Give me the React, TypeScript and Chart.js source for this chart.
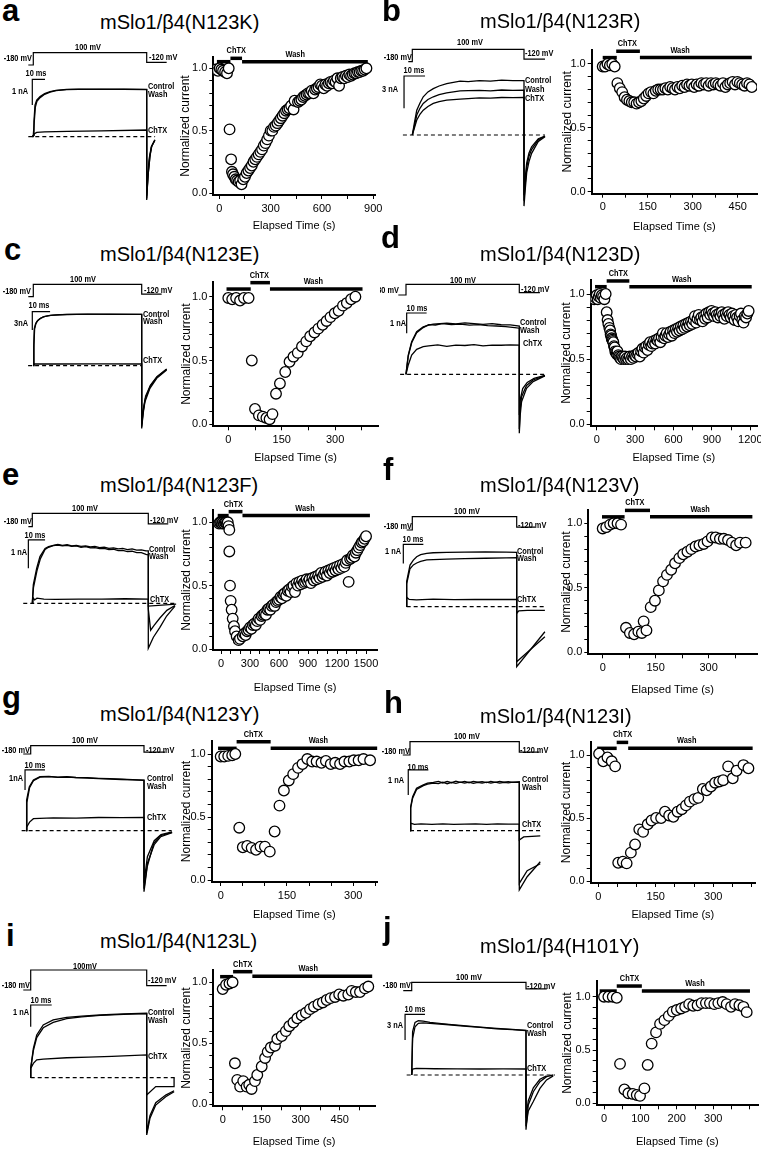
import React, { useEffect, useRef } from "react";
import { Chart, registerables } from "chart.js";
Chart.register(...registerables);

type Pair = [number, number];
type Bar = [number, number, number, number, string];

const FONT = '"Liberation Sans", Arial, Helvetica, sans-serif';
const NARROW_SCALE = 0.82;

// ---------- shared values ----------
const PROTOCOL_MV = [-180, 100, -120];
const PULSE_MS = [0, 50];
const Y_TICKS = [0, 0.1, 0.2, 0.3, 0.4, 0.5, 0.6, 0.7, 0.8, 0.9, 1.0];
const Y_LABELS = [0, 0.5, 1.0];
const TRACE_NAMES = ["Control", "Wash", "ChTX"];

// ---------- a: mSlo1/β4(N123K) ----------
const A_POINTS: Pair[] = [
  [-20, 0.99], [-8, 0.98], [2, 1.0], [12, 0.99], [22, 0.98], [34, 0.97], [45, 0.96], [55, 1.0],
  [60, 0.51], [69, 0.27], [74, 0.17], [80, 0.15], [88, 0.13], [96, 0.11], [104, 0.1], [113, 0.09], [122, 0.1], [130, 0.07],
  [140, 0.11], [150, 0.13], [160, 0.16], [170, 0.18], [180, 0.2], [190, 0.22], [200, 0.25], [210, 0.27], [220, 0.29],
  [230, 0.31], [240, 0.33], [250, 0.35], [260, 0.38], [270, 0.4], [280, 0.43], [290, 0.46], [300, 0.5], [310, 0.5],
  [320, 0.53], [330, 0.54], [340, 0.56], [350, 0.58], [360, 0.6], [370, 0.62], [380, 0.64], [390, 0.66], [400, 0.67],
  [410, 0.68], [420, 0.7], [434, 0.67], [440, 0.74], [460, 0.73], [470, 0.74], [480, 0.75], [490, 0.77], [500, 0.78],
  [510, 0.79], [520, 0.8], [530, 0.8], [540, 0.82], [550, 0.8], [560, 0.83], [570, 0.84], [580, 0.85], [590, 0.87],
  [600, 0.86], [610, 0.84], [620, 0.87], [630, 0.86], [640, 0.88], [650, 0.89], [660, 0.88], [670, 0.9], [680, 0.89],
  [690, 0.92], [700, 0.86], [710, 0.92], [720, 0.93], [730, 0.92], [740, 0.94], [750, 0.93], [760, 0.95], [770, 0.94],
  [780, 0.95], [790, 0.96], [800, 0.96], [810, 0.97], [820, 0.97], [830, 0.98], [840, 0.98], [850, 0.99], [860, 1.0],
];
const A_BARS: Bar[] = [[-14, 65, 1.053, 0, ""], [65, 133, 1.08, 99, "ChTX"], [133, 868, 1.053, 444, "Wash"]];
const A_XTICKS = [0, 150, 300, 450, 600, 750, 900];
const A_XLABELS = [0, 300, 600, 900];
const A_CONTROL: Pair[] = [[-0.5, 0], [0, 0.05], [0.3, 0.6], [0.75, 1.23], [1.5, 1.42], [3, 1.56], [5, 1.68], [7.4, 1.75], [10, 1.8], [14.7, 1.84], [20, 1.85], [30, 1.84], [40, 1.85], [50, 1.84], [50, -2.46], [50.5, -1.6], [51.4, -0.78], [52.1, -0.39], [53.6, -0.13]];
const A_WASH: Pair[] = [[-0.5, 0], [0, 0.05], [0.4, 0.55], [0.9, 1.15], [1.6, 1.38], [3, 1.52], [5, 1.65], [7.4, 1.73], [10, 1.79], [14.7, 1.83], [20, 1.84], [30, 1.85], [40, 1.84], [50, 1.83], [50, -2.4], [50.6, -1.5], [51.5, -0.72], [52.3, -0.35], [53.6, -0.12]];
const A_CHTX: Pair[] = [[-0.5, 0], [0, 0], [0.5, 0.12], [1.5, 0.17], [5, 0.19], [15, 0.21], [30, 0.23], [50, 0.26], [50, -2.3], [51, -0.9], [52, -0.4], [53.6, -0.15]];
const A_PROTO_T = [-2.2, 58.8];
const A_SCALEBAR = [-0.44, 5.6, 2.23, 1];
const A_BASE_T = [-2.2, 53.7];

// ---------- b: mSlo1/β4(N123R) ----------
const B_POINTS: Pair[] = [
  [0, 0.98], [8, 0.98], [16, 1.0], [24, 0.99], [32, 1.0], [40, 0.98],
  [49, 0.85], [57, 0.81], [65, 0.78], [73, 0.74], [81, 0.72], [89, 0.71], [97, 0.7], [105, 0.7], [113, 0.69], [121, 0.7],
  [129, 0.71], [137, 0.73], [145, 0.75], [153, 0.77], [161, 0.78], [169, 0.77], [177, 0.79], [185, 0.8], [193, 0.8],
  [201, 0.8], [209, 0.81], [217, 0.8], [225, 0.82], [233, 0.81], [241, 0.8], [249, 0.82], [257, 0.81], [265, 0.83],
  [273, 0.82], [281, 0.84], [289, 0.83], [297, 0.84], [305, 0.82], [313, 0.84], [321, 0.83], [329, 0.85], [337, 0.84],
  [345, 0.85], [353, 0.83], [361, 0.85], [369, 0.84], [377, 0.85], [385, 0.84], [393, 0.83], [401, 0.85], [409, 0.82],
  [417, 0.84], [425, 0.85], [433, 0.86], [441, 0.84], [449, 0.86], [457, 0.85], [465, 0.84], [473, 0.83], [481, 0.85],
  [489, 0.84], [497, 0.82],
];
const B_BARS: Bar[] = [[0, 47, 1.05, 0, ""], [45, 124, 1.1, 82, "ChTX"], [124, 497, 1.05, 258, "Wash"]];
const B_XTICKS = [0, 75, 150, 225, 300, 375, 450];
const B_XLABELS = [0, 150, 300, 450];
const B_CONTROL: Pair[] = [[0, 0], [1, 1.2], [2, 2.3], [3.5, 3.0], [4.9, 3.55], [7, 4.0], [9.4, 4.3], [12, 4.55], [15.4, 4.78], [21.4, 5.0], [25, 4.95], [30, 5.05], [35, 5.0], [40, 5.1], [45, 5.05], [50, 5.05], [50, -6.6], [50.5, -5.2], [51.2, -3.5], [52.2, -2.5], [53.4, -1.7], [56.4, -0.6], [59.4, -0.15]];
const B_WASH: Pair[] = [[0, 0], [1, 0.9], [2, 1.85], [3.5, 2.5], [4.9, 2.93], [7, 3.3], [9.4, 3.55], [12, 3.75], [15.4, 3.92], [21.4, 4.1], [25, 4.12], [30, 4.15], [35, 4.1], [40, 4.18], [45, 4.15], [50, 4.17], [50, -6.1], [50.5, -4.7], [51.2, -3.0], [52.2, -2.0], [53.4, -1.35], [56.4, -0.45], [59.4, -0.12]];
const B_CHTX: Pair[] = [[0, 0], [1, 0.7], [2, 1.39], [3.5, 1.95], [4.9, 2.31], [7, 2.65], [9.4, 2.93], [12, 3.1], [15.4, 3.24], [21.4, 3.33], [25, 3.38], [30, 3.45], [35, 3.42], [40, 3.48], [45, 3.47], [50, 3.49], [50, -5.6], [50.5, -4.1], [51.2, -2.6], [52.2, -1.7], [53.4, -1.1], [56.4, -0.35], [59.4, -0.1]];
const B_PROTO_T = [-1.8, 59.4];
const B_SCALEBAR = [-3.7, 9.4, 5.48, 3];
const B_BASE_T = [-4.2, 59.4];

// ---------- c: mSlo1/β4(N123E) ----------
const C_POINTS: Pair[] = [
  [0, 0.99], [11, 0.98], [22, 0.99], [33, 0.97], [44, 0.99], [57, 0.99],
  [66, 0.5], [75, 0.12], [86, 0.07], [97, 0.06], [107, 0.05], [116, 0.04], [124, 0.08],
  [134, 0.24], [145, 0.32], [160, 0.41], [172, 0.49], [183, 0.53], [195, 0.56], [207, 0.61], [219, 0.65], [230, 0.69],
  [242, 0.72], [253, 0.75], [265, 0.78], [276, 0.81], [287, 0.84], [299, 0.87], [310, 0.89], [322, 0.93], [333, 0.95],
  [345, 0.98], [357, 1.0],
];
const C_BARS: Bar[] = [[-5, 63, 1.06, 0, ""], [62, 117, 1.11, 87, "ChTX"], [117, 377, 1.06, 239, "Wash"]];
const C_XTICKS = [0, 75, 150, 225, 300, 375];
const C_XLABELS = [0, 150, 300];
const C_CONTROL: Pair[] = [[0, 0], [0.2, 3.0], [0.46, 6.1], [1, 6.8], [1.54, 7.2], [3, 7.7], [4.6, 8.0], [7, 8.2], [9.2, 8.3], [15.4, 8.4], [25, 8.45], [35, 8.43], [50, 8.43], [50, -10.3], [50.6, -8.0], [51.5, -5.9], [53.8, -3.7], [56.9, -2.07], [61.5, -0.7]];
const C_WASH: Pair[] = [[0, 0], [0.3, 3.5], [0.6, 6.0], [1.2, 6.9], [2, 7.4], [3.5, 7.8], [5, 8.05], [8, 8.25], [12, 8.35], [20, 8.42], [35, 8.45], [50, 8.4], [50, -10.0], [50.7, -7.5], [51.6, -5.5], [53.9, -3.4], [57, -1.9], [61.5, -0.6]];
const C_CHTX: Pair[] = [[0, 0], [0.5, 0.3], [10, 0.28], [30, 0.3], [50, 0.28], [50, -9.6], [50.8, -7.0], [51.8, -5.0], [54, -3.2], [57, -1.8], [61.5, -0.55]];
const C_PROTO_T = [-2.3, 59.2];
const C_SCALEBAR = [-0.46, 8.2, 8.85, 3];
const C_BASE_T = [-2.4, 50.1];

// ---------- d: mSlo1/β4(N123D) ----------
const D_POINTS: Pair[] = [
  [-20, 0.96], [-8, 0.97], [0, 0.99], [8, 0.96], [16, 0.98], [24, 1.0], [32, 0.97], [40, 0.99], [50, 0.98], [60, 0.96], [70, 1.0],
  [78, 0.86], [85, 0.8], [91, 0.77], [99, 0.74], [105, 0.72], [109, 0.69], [113, 0.68], [117, 0.66], [121, 0.65], [125, 0.64],
  [130, 0.63], [135, 0.6], [140, 0.59], [145, 0.56], [150, 0.55], [156, 0.54], [162, 0.56], [169, 0.53], [176, 0.52],
  [183, 0.51], [190, 0.5], [197, 0.52], [205, 0.51], [213, 0.5], [221, 0.52], [229, 0.5], [237, 0.51], [247, 0.5],
  [257, 0.52], [267, 0.5], [277, 0.52], [287, 0.51], [297, 0.53], [307, 0.52], [317, 0.54], [327, 0.55], [337, 0.52],
  [347, 0.56], [357, 0.58], [367, 0.55], [377, 0.59], [387, 0.6], [397, 0.57], [407, 0.61], [417, 0.63], [427, 0.6],
  [437, 0.62], [447, 0.64], [457, 0.62], [467, 0.65], [477, 0.64], [487, 0.66], [497, 0.63], [507, 0.67], [517, 0.7],
  [527, 0.66], [537, 0.68], [547, 0.7], [557, 0.67], [567, 0.69], [577, 0.71], [587, 0.68], [597, 0.72], [607, 0.7],
  [617, 0.73], [627, 0.71], [637, 0.74], [647, 0.72], [657, 0.75], [667, 0.73], [677, 0.76], [687, 0.74], [697, 0.77],
  [707, 0.75], [717, 0.78], [727, 0.76], [737, 0.79], [747, 0.77], [757, 0.8], [767, 0.83], [777, 0.78], [787, 0.81],
  [797, 0.84], [807, 0.8], [817, 0.82], [827, 0.79], [837, 0.83], [847, 0.81], [857, 0.85], [867, 0.82], [877, 0.86],
  [887, 0.84], [897, 0.87], [907, 0.85], [917, 0.83], [927, 0.86], [937, 0.84], [947, 0.82], [957, 0.85], [967, 0.83],
  [977, 0.86], [987, 0.84], [997, 0.81], [1007, 0.85], [1017, 0.83], [1027, 0.86], [1037, 0.84], [1047, 0.82],
  [1057, 0.85], [1067, 0.83], [1077, 0.8], [1087, 0.84], [1097, 0.82], [1107, 0.79], [1117, 0.83], [1127, 0.85],
  [1137, 0.8], [1147, 0.78], [1157, 0.83], [1167, 0.82], [1177, 0.85], [1187, 0.87],
];
const D_BARS: Bar[] = [[-13, 78, 1.056, 0, ""], [78, 255, 1.1, 169, "ChTX"], [255, 1211, 1.056, 664, "Wash"]];
const D_XTICKS = [0, 150, 300, 450, 600, 750, 900, 1050, 1200];
const D_XLABELS = [0, 300, 600, 900, 1200];
const D_CONTROL: Pair[] = [[0, 0], [0.5, 0.5], [1, 0.95], [2.5, 1.6], [4.7, 2.1], [7.6, 2.34], [10, 2.42], [12, 2.47], [15, 2.5], [18, 2.52], [22, 2.48], [26, 2.53], [30, 2.5], [34, 2.46], [38, 2.5], [42, 2.44], [46, 2.43], [50, 2.38], [50, -2.9], [50.4, -2.0], [51, -1.35], [53.2, -0.69], [56.1, -0.36], [61.3, -0.08]];
const D_WASH: Pair[] = [[0, 0], [0.5, 0.45], [1, 0.9], [2.5, 1.55], [4.7, 2.05], [7.6, 2.3], [10, 2.45], [13, 2.43], [16, 2.5], [20, 2.45], [24, 2.47], [28, 2.42], [32, 2.45], [36, 2.4], [40, 2.38], [44, 2.35], [48, 2.3], [50, 2.27], [50, -2.7], [50.4, -1.7], [51, -1.1], [53.2, -0.55], [56.1, -0.28], [61.3, -0.06]];
const D_CHTX: Pair[] = [[0, 0], [1, 0.46], [2.5, 0.95], [4.7, 1.23], [7.6, 1.36], [10, 1.4], [14, 1.45], [18, 1.38], [22, 1.44], [26, 1.42], [30, 1.46], [34, 1.4], [38, 1.44], [42, 1.43], [46, 1.45], [50, 1.44], [50, -2.0], [50.5, -1.2], [51.5, -0.7], [53.5, -0.4], [56.5, -0.2], [61.3, -0.05]];
const D_PROTO_T = [-3.4, 59.1];
const D_SCALEBAR = [0.3, 8.8, 3.02, 1];
const D_BASE_T = [-2.6, 61.3];

// ---------- e: mSlo1/β4(N123F) ----------
const E_POINTS: Pair[] = [
  [-20, 0.99], [-10, 1.0], [0, 1.0], [10, 0.99], [20, 1.0], [30, 0.99], [40, 1.0], [50, 1.0], [60, 0.99], [70, 1.0], [78, 0.97],
  [86, 0.94], [86, 0.77], [93, 0.5], [100, 0.38], [110, 0.31], [121, 0.24], [134, 0.18], [145, 0.14], [162, 0.1], [183, 0.07], [196, 0.08],
  [225, 0.1], [240, 0.12], [255, 0.11], [270, 0.14], [285, 0.15], [300, 0.17], [315, 0.16], [330, 0.19], [345, 0.2],
  [360, 0.19], [375, 0.22], [390, 0.24], [405, 0.23], [420, 0.26], [435, 0.27], [450, 0.28], [465, 0.27], [480, 0.31],
  [495, 0.32], [510, 0.31], [525, 0.34], [540, 0.35], [555, 0.34], [570, 0.37], [585, 0.38], [600, 0.39], [615, 0.41],
  [630, 0.4], [645, 0.43], [660, 0.44], [675, 0.42], [690, 0.46], [705, 0.47], [720, 0.45], [735, 0.49], [750, 0.5],
  [765, 0.45], [780, 0.52], [795, 0.5], [810, 0.53], [825, 0.51], [840, 0.54], [855, 0.52], [870, 0.53], [885, 0.55],
  [900, 0.53], [915, 0.55], [930, 0.52], [945, 0.56], [960, 0.54], [975, 0.57], [990, 0.55], [1005, 0.58], [1020, 0.56],
  [1035, 0.6], [1050, 0.57], [1065, 0.59], [1080, 0.61], [1095, 0.58], [1110, 0.62], [1125, 0.6], [1140, 0.63],
  [1155, 0.61], [1170, 0.64], [1185, 0.62], [1200, 0.65], [1215, 0.63], [1230, 0.66], [1245, 0.64], [1260, 0.67],
  [1275, 0.65], [1290, 0.68], [1305, 0.7], [1320, 0.53], [1335, 0.71], [1350, 0.72], [1365, 0.74], [1380, 0.73],
  [1395, 0.76], [1410, 0.78], [1425, 0.8], [1440, 0.82], [1455, 0.84], [1470, 0.85], [1485, 0.87], [1500, 0.89],
];
const E_BARS: Bar[] = [[-34, 79, 1.053, 0, ""], [79, 222, 1.084, 127, "ChTX"], [222, 1540, 1.053, 869, "Wash"]];
const E_XTICKS = [0, 100, 200, 300, 400, 500, 600, 700, 800, 900, 1000, 1100, 1200, 1300, 1400, 1500];
const E_XLABELS = [0, 300, 600, 900, 1200, 1500];
const E_CONTROL: Pair[] = [[0, 0], [0.43, 0.65], [1.9, 1.24], [3.3, 1.65], [5.5, 1.94], [7, 2.0], [9.1, 2.05], [11, 2.08], [13, 2.05], [15, 2.07], [17, 2.03], [19, 2.05], [21, 2.01], [23, 2.03], [25, 1.99], [27, 2.01], [29, 1.97], [31, 1.98], [33, 1.94], [35, 1.96], [37, 1.92], [39, 1.94], [41, 1.9], [43, 1.92], [45, 1.88], [47, 1.89], [49, 1.85], [50, 1.85], [50, -1.59], [52.2, -1.2], [55, -0.85], [57.9, -0.45], [61.5, -0.1]];
const E_WASH: Pair[] = [[0, 0], [0.5, 0.55], [2, 1.15], [3.5, 1.58], [5.5, 1.9], [7, 1.98], [9, 2.04], [11, 2.06], [13, 2.03], [15, 2.05], [17, 2.01], [19, 2.03], [21, 1.98], [23, 2.0], [25, 1.96], [27, 1.97], [29, 1.93], [31, 1.94], [33, 1.9], [35, 1.91], [37, 1.86], [39, 1.87], [41, 1.83], [43, 1.84], [45, 1.79], [47, 1.79], [49, 1.73], [50, 1.71], [50, -0.2], [51, -0.95], [52.5, -0.78], [55, -0.52], [58, -0.25], [61.5, -0.08]];
const E_CHTX: Pair[] = [[0, 0], [0.3, 0.2], [1, 0.12], [2, 0.18], [5, 0.15], [10, 0.14], [20, 0.15], [30, 0.15], [40, 0.16], [50, 0.15], [50, -0.1], [62, -0.03]];
const E_PROTO_T = [-1.7, 58.6];
const E_SCALEBAR = [-1.7, 7.2, 2.24, 1];
const E_BASE_T = [-3.9, 62.2];

// ---------- f: mSlo1/β4(N123V) ----------
const F_POINTS: Pair[] = [
  [0, 0.96], [10, 0.97], [21, 0.99], [31, 1.0], [42, 1.0], [52, 0.99],
  [66, 0.19], [77, 0.15], [89, 0.14], [101, 0.16], [111, 0.15], [116, 0.24], [124, 0.17],
  [136, 0.35], [148, 0.4], [159, 0.48], [171, 0.55], [182, 0.6], [194, 0.64], [205, 0.69], [217, 0.73], [228, 0.76],
  [240, 0.78], [251, 0.8], [263, 0.82], [274, 0.83], [286, 0.84], [297, 0.86], [309, 0.89], [320, 0.89], [332, 0.88],
  [343, 0.88], [355, 0.87], [366, 0.85], [378, 0.83], [389, 0.85], [405, 0.85],
];
const F_BARS: Bar[] = [[-2, 62, 1.05, 0, ""], [63, 134, 1.1, 91, "ChTX"], [134, 424, 1.05, 276, "Wash"]];
const F_XTICKS = [0, 75, 150, 225, 300, 375];
const F_XLABELS = [0, 150, 300];
const F_CONTROL: Pair[] = [[-2.7, 0], [-2.7, 1.32], [-1.1, 2.19], [0.5, 2.45], [2.1, 2.63], [4, 2.74], [6.9, 2.81], [10, 2.84], [16.5, 2.86], [25, 2.87], [35, 2.88], [45, 2.87], [50, 2.86], [50, -3.16], [63.5, -1.32]];
const F_WASH: Pair[] = [[-2.7, 0], [-2.7, 1.2], [-1.1, 2.0], [0.5, 2.2], [2.1, 2.3], [4, 2.38], [6.9, 2.46], [10, 2.48], [16.5, 2.5], [25, 2.53], [35, 2.55], [45, 2.57], [50, 2.58], [50, -2.9], [63.5, -1.58]];
const F_CHTX: Pair[] = [[-2.7, 0], [-2.7, 0.5], [-1.5, 0.38], [2, 0.36], [10, 0.4], [20, 0.37], [30, 0.39], [40, 0.38], [50, 0.39], [50, -0.35], [51, -0.22], [55, -0.19], [63.5, -0.19]];
const F_PROTO_T = [-2.7, 58.8];
const F_SCALEBAR = [-4.3, 9.6, 3.28, 1];
const F_BASE_T = [-2.7, 63.6];

// ---------- g: mSlo1/β4(N123Y) ----------
const G_POINTS: Pair[] = [
  [0, 0.98], [8, 0.98], [17, 0.985], [26, 0.99], [33, 1.0],
  [42, 0.415], [50, 0.26], [60, 0.27], [70, 0.255], [80, 0.24], [90, 0.265], [100, 0.265], [111, 0.225],
  [122, 0.385], [133, 0.59], [143, 0.71], [154, 0.79], [164, 0.84], [175, 0.89], [185, 0.92], [196, 0.96], [207, 0.94],
  [217, 0.94], [228, 0.93], [238, 0.945], [249, 0.92], [259, 0.93], [270, 0.92], [280, 0.94], [291, 0.94], [301, 0.95],
  [312, 0.95], [323, 0.96], [338, 0.95],
];
const G_BARS: Bar[] = [[-6, 36, 1.045, 0, ""], [36, 113, 1.098, 74, "ChTX"], [113, 354, 1.045, 221, "Wash"]];
const G_XTICKS = [0, 50, 100, 150, 200, 250, 300, 350];
const G_XLABELS = [0, 150, 300];
const G_CONTROL: Pair[] = [[-2.06, 0], [-1.8, 1.53], [-0.6, 2.2], [1.2, 2.53], [4.1, 2.7], [8, 2.72], [12, 2.68], [16, 2.7], [20, 2.66], [25, 2.65], [30, 2.62], [35, 2.6], [40, 2.58], [45, 2.55], [50, 2.53], [50, -3.05], [51.4, -1.8], [54.3, -0.63], [57.2, -0.25], [62.4, -0.08]];
const G_WASH: Pair[] = [[-2.06, 0], [-1.7, 1.4], [-0.5, 2.15], [1.2, 2.5], [4.1, 2.68], [8, 2.7], [12, 2.67], [16, 2.68], [20, 2.65], [25, 2.63], [30, 2.6], [35, 2.58], [40, 2.56], [45, 2.54], [50, 2.52], [50, -2.9], [51.6, -1.6], [54.5, -0.7], [57.4, -0.3], [62.4, -0.1]];
const G_CHTX: Pair[] = [[-2.06, 0], [-1.8, 0.18], [-0.5, 0.43], [1.2, 0.6], [4, 0.62], [10, 0.64], [20, 0.63], [30, 0.66], [40, 0.65], [50, 0.67], [50, -2.6], [51.5, -1.3], [54.5, -0.5], [57.5, -0.2], [62.4, -0.06]];
const G_PROTO_T = [-3.3, 59.3];
const G_SCALEBAR = [-2.5, 8.8, 3.04, 1];
const G_BASE_T = [-4.0, 62.2];

// ---------- h: mSlo1/β4(N123I) ----------
const H_POINTS: Pair[] = [
  [2, 1.01], [13, 0.95], [24, 0.98], [35, 0.95], [44, 0.91],
  [52, 0.145], [64, 0.153], [74, 0.14],
  [85, 0.225], [96, 0.29], [107, 0.41], [117, 0.39], [129, 0.45], [139, 0.48], [151, 0.5], [164, 0.5], [174, 0.55],
  [185, 0.52], [196, 0.51], [207, 0.55], [218, 0.57], [229, 0.6], [239, 0.63], [251, 0.65], [261, 0.66], [273, 0.73],
  [283, 0.72], [294, 0.75], [305, 0.78], [316, 0.79], [326, 0.8], [339, 0.91], [351, 0.815], [361, 0.875], [379, 0.92],
  [392, 0.895],
];
const H_BARS: Bar[] = [[-3, 48, 1.053, 0, ""], [48, 78, 1.1, 63.5, "ChTX"], [78, 403, 1.053, 231, "Wash"]];
const H_XTICKS = [0, 50, 100, 150, 200, 250, 300, 350, 400];
const H_XLABELS = [0, 150, 300];
const H_CONTROL: Pair[] = [[0, 0], [0.3, 0.96], [1.2, 1.36], [3, 1.7], [6.1, 1.83], [8, 1.9], [10.7, 1.93], [13, 1.97], [15, 1.91], [17, 1.97], [19, 1.92], [21, 1.98], [23, 1.93], [25, 1.97], [27, 1.92], [29, 1.97], [31, 1.94], [33, 1.96], [35, 1.92], [37, 1.97], [39, 1.93], [41, 1.97], [43, 1.94], [45, 1.96], [47, 1.93], [50, 1.96], [50, -2.37], [53.6, -1.84], [59.6, -1.24]];
const H_WASH: Pair[] = [[0, 0], [0.3, 0.9], [1.2, 1.3], [3, 1.65], [6.1, 1.8], [8, 1.86], [10.7, 1.9], [13, 1.88], [15, 1.94], [17, 1.88], [19, 1.93], [21, 1.89], [23, 1.94], [25, 1.9], [27, 1.94], [29, 1.89], [31, 1.93], [33, 1.9], [35, 1.94], [37, 1.9], [39, 1.94], [41, 1.9], [43, 1.93], [45, 1.91], [47, 1.94], [50, 1.93], [50, -2.11], [53.6, -1.6], [59.6, -1.32]];
const H_CHTX: Pair[] = [[0, 0], [0.3, 0.3], [2, 0.25], [5, 0.27], [10, 0.25], [15, 0.27], [20, 0.25], [25, 0.26], [30, 0.27], [35, 0.25], [40, 0.27], [45, 0.26], [50, 0.26], [50, -0.37], [52, -0.25], [59.6, -0.21]];
const H_PROTO_T = [-3.3, 59.1];
const H_SCALEBAR = [-0.8, 9.2, 2.43, 1];
const H_BASE_T = [0, 59.5];

// ---------- i: mSlo1/β4(N123L) ----------
const I_POINTS: Pair[] = [
  [0, 0.945], [13, 0.98], [26, 0.99], [38, 1.0],
  [47, 0.336], [56, 0.2], [67, 0.145], [79, 0.19], [92, 0.145], [102, 0.16], [111, 0.126],
  [124, 0.19], [133, 0.24], [150, 0.31], [163, 0.38], [173, 0.43], [185, 0.465], [201, 0.48], [210, 0.535], [227, 0.56],
  [243, 0.6], [256, 0.64], [272, 0.67], [287, 0.705], [304, 0.73], [320, 0.75], [336, 0.78], [351, 0.8], [368, 0.82],
  [385, 0.835], [400, 0.855], [415, 0.87], [432, 0.88], [448, 0.9], [464, 0.89], [483, 0.9], [496, 0.93], [512, 0.92],
  [528, 0.92], [547, 0.95], [560, 0.965],
];
const I_BARS: Bar[] = [[-10, 40, 1.046, 0, ""], [40, 114, 1.087, 77, "ChTX"], [114, 575, 1.05, 329, "Wash"]];
const I_XTICKS = [0, 75, 150, 225, 300, 375, 450, 525];
const I_XLABELS = [0, 150, 300, 450];
const I_CONTROL: Pair[] = [[0, 0], [0, 0.43], [1.15, 1.35], [2.6, 1.97], [5.4, 2.43], [9.7, 2.66], [15.5, 2.78], [22, 2.84], [29.9, 2.89], [40, 2.94], [50, 2.97], [50, -2.64], [51.4, -1.87], [53.9, -1.26], [58.2, -0.88], [61.8, -0.65]];
const I_WASH: Pair[] = [[0, 0], [0, 0.43], [1.15, 1.25], [2.6, 1.85], [5.4, 2.3], [9.7, 2.55], [15.5, 2.72], [22, 2.8], [29.9, 2.87], [40, 2.92], [50, 2.95], [50, -2.55], [51.4, -1.75], [53.9, -1.15], [58.2, -0.8], [61.8, -0.6]];
const I_CHTX: Pair[] = [[0, 0], [0, 0.43], [1.15, 0.66], [2.6, 0.82], [5.4, 0.86], [15.5, 0.92], [25, 0.95], [35, 0.98], [50, 1.05], [50, -0.8], [53.9, -0.41], [61.8, -0.41], [61.8, 0]];
const I_PROTO_T = [-3.2, 58.6];
const I_SCALEBAR = [0, 9.05, 3.35, 1];
const I_BASE_T = [0, 62.9];

// ---------- j: mSlo1/β4(H101Y) ----------
const J_POINTS: Pair[] = [
  [0, 1.0], [12, 1.0], [24, 1.0], [35, 0.99],
  [44, 0.37], [56, 0.13], [67, 0.094], [79, 0.088], [90, 0.078], [99, 0.07],
  [111, 0.14], [120, 0.36], [131, 0.56], [143, 0.665], [154, 0.745], [166, 0.78], [178, 0.82], [189, 0.86], [200, 0.875],
  [212, 0.89], [223, 0.905], [234, 0.93], [245, 0.915], [257, 0.92], [268, 0.94], [280, 0.94], [291, 0.94], [303, 0.93],
  [314, 0.94], [326, 0.95], [337, 0.93], [349, 0.905], [360, 0.93], [372, 0.92], [383, 0.905], [392, 0.855],
];
const J_BARS: Bar[] = [[-12, 35, 1.053, 0, ""], [35, 104, 1.1, 70, "ChTX"], [104, 401, 1.053, 250, "Wash"]];
const J_XTICKS = [0, 50, 100, 150, 200, 250, 300, 350, 400];
const J_XLABELS = [0, 100, 200, 300];
const J_CONTROL: Pair[] = [[0, 0], [0.4, 5.06], [1.46, 6.15], [2.9, 6.34], [5, 6.3], [8, 6.15], [15, 5.95], [22.6, 5.76], [30, 5.6], [37.2, 5.45], [44, 5.33], [50, 5.22], [50, -6.4], [51, -3.5], [53.2, -1.95], [56.1, -0.78], [59, -0.2], [61.9, 0]];
const J_WASH: Pair[] = [[0, 0], [0.4, 4.28], [1.46, 5.64], [2.9, 6.03], [5, 6.1], [8, 6.03], [15, 5.9], [22.6, 5.72], [30, 5.57], [37.2, 5.4], [44, 5.3], [50, 5.2], [50, -6.0], [51, -4.2], [53.2, -3.1], [56.1, -1.56], [59, -0.58], [61.9, -0.1]];
const J_CHTX: Pair[] = [[0, 0], [0.4, 0.7], [2, 0.78], [10, 0.73], [20, 0.72], [30, 0.7], [40, 0.71], [50, 0.7], [50, -5.0], [51, -3.0], [53.2, -1.5], [56.1, -0.5], [59, -0.1]];
const J_PROTO_T = [-3.7, 59.1];
const J_SCALEBAR = [-2.9, 8.7, 7.09, 3];
const J_BASE_T = [-2.2, 62.7];

// ---------- layout (positions in page pixels) ----------
type TraceLayout = { tOn: number; tOff: number; base: number; pxNA: number; p100: number; p180: number; top: number; h: number };
type ScatterLayout = { L: number; R: number; T: number; B: number; x0: number; pxX: number; y1: number; y0: number; yTitleX: number; xTitleY: number };

const PANELS = [
  {
    letter: "a", title: "mSlo1/β4(N123K)", points: A_POINTS, bars: A_BARS, xTicks: A_XTICKS, xLabels: A_XLABELS,
    traces: [A_CONTROL, A_WASH, A_CHTX], protoT: A_PROTO_T, scaleBar: A_SCALEBAR, baseT: A_BASE_T, nA: "1 nA", step: "100 mV",
    col: 0, letterPos: [2, 21.7], titlePos: [100, 29],
    trace: { tOn: 33.3, tOff: 146.7, base: 136.7, pxNA: 25.7, p100: 52.7, p180: 65, top: 30, h: 190 },
    scatter: { L: 213.3, R: 375, T: 57, B: 195, x0: 219.3, pxX: 0.1711, y1: 68.3, y0: 193, yTitleX: 185, xTitleY: 226.5 },
    lab: [[148, 86], [148, 94.5], [148, 130], [36, 73], [28, 91], [88, 47], [32, 58], [149, 57]],
  },
  {
    letter: "b", title: "mSlo1/β4(N123R)", points: B_POINTS, bars: B_BARS, xTicks: B_XTICKS, xLabels: B_XLABELS,
    traces: [B_CONTROL, B_WASH, B_CHTX], protoT: B_PROTO_T, scaleBar: B_SCALEBAR, baseT: B_BASE_T, nA: "3 nA", step: "100 mV",
    col: 1, letterPos: [382, 21.7], titlePos: [480, 28],
    trace: { tOn: 412.3, tOff: 524, base: 135, pxNA: 10.77, p100: 49.3, p180: 61.7, top: 30, h: 190 },
    scatter: { L: 591.7, R: 757, T: 50, B: 193.7, x0: 602.7, pxX: 0.3, y1: 64, y0: 191.7, yTitleX: 567.5, xTitleY: 227.5 },
    lab: [[525, 80.7], [525, 89.3], [525, 98.7], [414, 70.7], [398, 89], [470, 42.7], [412, 57.3], [525, 53.3]],
  },
  {
    letter: "c", title: "mSlo1/β4(N123E)", points: C_POINTS, bars: C_BARS, xTicks: C_XTICKS, xLabels: C_XLABELS,
    traces: [C_CONTROL, C_WASH, C_CHTX], protoT: C_PROTO_T, scaleBar: C_SCALEBAR, baseT: C_BASE_T, nA: "3nA", step: "100 mV",
    col: 0, letterPos: [4, 260.7], titlePos: [100, 261],
    trace: { tOn: 33.3, tOff: 141.7, base: 365.7, pxNA: 6.1, p100: 284.3, p180: 296.7, top: 245, h: 200 },
    scatter: { L: 213.3, R: 378, T: 281.7, B: 426.3, x0: 228.3, pxX: 0.356, y1: 296.7, y0: 424.3, yTitleX: 185.8, xTitleY: 458.3 },
    lab: [[143, 314], [143, 321.7], [143, 360.7], [39, 305.7], [28, 323], [83, 279.3], [31, 291], [144, 290.7]],
  },
  {
    letter: "d", title: "mSlo1/β4(N123D)", points: D_POINTS, bars: D_BARS, xTicks: D_XTICKS, xLabels: D_XLABELS,
    traces: [D_CONTROL, D_WASH, D_CHTX], protoT: D_PROTO_T, scaleBar: D_SCALEBAR, baseT: D_BASE_T, nA: "1 nA", step: "100 mV",
    col: 1, letterPos: [381, 248.3], titlePos: [480, 261],
    trace: { tOn: 406, tOff: 519.3, base: 374.3, pxNA: 20.3, p100: 284.3, p180: 295, top: 245, h: 200 },
    scatter: { L: 590.7, R: 757, T: 280, B: 426.3, x0: 596.7, pxX: 0.128, y1: 294, y0: 424.3, yTitleX: 565.8, xTitleY: 458.3 },
    lab: [[520, 322.3], [520, 330], [522.7, 343.3], [417, 308.3], [406, 323.3], [463.3, 280], [399, 290.3], [521, 289]],
  },
  {
    letter: "e", title: "mSlo1/β4(N123F)", points: E_POINTS, bars: E_BARS, xTicks: E_XTICKS, xLabels: E_XLABELS,
    traces: [E_CONTROL, E_WASH, E_CHTX], protoT: E_PROTO_T, scaleBar: E_SCALEBAR, baseT: E_BASE_T, nA: "1 nA", step: "100 mV",
    col: 0, letterPos: [2, 485], titlePos: [100, 491.7],
    trace: { tOn: 32.3, tOff: 148.3, base: 603.3, pxNA: 28.3, p100: 513.3, p180: 526.7, top: 475, h: 205 },
    scatter: { L: 213.3, R: 376.7, T: 510, B: 650, x0: 221, pxX: 0.0967, y1: 522.3, y0: 649, yTitleX: 186, xTitleY: 688.3 },
    lab: [[149.3, 549], [149.3, 556.7], [150, 599], [35, 535], [27, 552.7], [85, 508.3], [32, 521.7], [150, 520]],
  },
  {
    letter: "f", title: "mSlo1/β4(N123V)", points: F_POINTS, bars: F_BARS, xTicks: F_XTICKS, xLabels: F_XLABELS,
    traces: [F_CONTROL, F_WASH, F_CHTX], protoT: F_PROTO_T, scaleBar: F_SCALEBAR, baseT: F_BASE_T, nA: "1 nA", step: "100 mV",
    col: 1, letterPos: [383, 480], titlePos: [480, 491.7],
    trace: { tOn: 412.3, tOff: 516.7, base: 606.7, pxNA: 19, p100: 516.7, p180: 530, top: 475, h: 205 },
    scatter: { L: 588.3, R: 757, T: 510, B: 654.3, x0: 602.7, pxX: 0.353, y1: 523.3, y0: 652.3, yTitleX: 566, xTitleY: 690 },
    lab: [[517.3, 551], [517.3, 558.3], [517.3, 599], [413.3, 539.3], [401, 551.7], [466.7, 511.7], [411.7, 526.7], [518.3, 525]],
  },
  {
    letter: "g", title: "mSlo1/β4(N123Y)", points: G_POINTS, bars: G_BARS, xTicks: G_XTICKS, xLabels: G_XLABELS,
    traces: [G_CONTROL, G_WASH, G_CHTX], protoT: G_PROTO_T, scaleBar: G_SCALEBAR, baseT: G_BASE_T, nA: "1nA", step: "100 mV",
    col: 0, letterPos: [2, 708.3], titlePos: [100, 720.7],
    trace: { tOn: 30.7, tOff: 144, base: 830.7, pxNA: 20, p100: 745.7, p180: 754, top: 710, h: 195 },
    scatter: { L: 211.7, R: 376.7, T: 740.7, B: 882, x0: 220.7, pxX: 0.442, y1: 754, y0: 880, yTitleX: 186, xTitleY: 915 },
    lab: [[146.7, 778.3], [146.7, 786.7], [146.7, 817.3], [35, 765], [23, 778.3], [85, 740.7], [30, 750.7], [146, 750.7]],
  },
  {
    letter: "h", title: "mSlo1/β4(N123I)", points: H_POINTS, bars: H_BARS, xTicks: H_XTICKS, xLabels: H_XLABELS,
    traces: [H_CONTROL, H_WASH, H_CHTX], protoT: H_PROTO_T, scaleBar: H_SCALEBAR, baseT: H_BASE_T, nA: "1 nA", step: "100 mV",
    col: 1, letterPos: [384, 713.3], titlePos: [480, 722.7],
    trace: { tOn: 410, tOff: 519.3, base: 830.7, pxNA: 25, p100: 741.7, p180: 755, top: 710, h: 195 },
    scatter: { L: 590.7, R: 755, T: 741.7, B: 883, x0: 598.3, pxX: 0.383, y1: 755, y0: 881, yTitleX: 566, xTitleY: 915 },
    lab: [[521.7, 779.3], [521.7, 787.3], [521.7, 824.3], [418, 767.3], [404, 780], [466.7, 736], [410, 751.7], [520, 750]],
  },
  {
    letter: "i", title: "mSlo1/β4(N123L)", points: I_POINTS, bars: I_BARS, xTicks: I_XTICKS, xLabels: I_XLABELS,
    traces: [I_CONTROL, I_WASH, I_CHTX], protoT: I_PROTO_T, scaleBar: I_SCALEBAR, baseT: I_BASE_T, nA: "1 nA", step: "100mV",
    col: 0, letterPos: [6, 946.7], titlePos: [100, 947.7],
    trace: { tOn: 30.7, tOff: 146.7, base: 1077.7, pxNA: 21.7, p100: 970, p180: 990, top: 935, h: 213 },
    scatter: { L: 213.3, R: 375, T: 970, B: 1106.3, x0: 222.7, pxX: 0.26, y1: 982.3, y0: 1104.3, yTitleX: 186, xTitleY: 1142.3 },
    lab: [[148.3, 1012.3], [148.3, 1020.7], [148.3, 1056.7], [41, 1000.7], [29, 1012.3], [85, 966], [30, 985], [148, 980.7]],
  },
  {
    letter: "j", title: "mSlo1/β4(H101Y)", points: J_POINTS, bars: J_BARS, xTicks: J_XTICKS, xLabels: J_XLABELS,
    traces: [J_CONTROL, J_WASH, J_CHTX], protoT: J_PROTO_T, scaleBar: J_SCALEBAR, baseT: J_BASE_T, nA: "3 nA", step: "100 mV",
    col: 1, letterPos: [383, 939], titlePos: [480, 952.7],
    trace: { tOn: 411.7, tOff: 526, base: 1075, pxNA: 8.56, p100: 982.3, p180: 990.7, top: 935, h: 213 },
    scatter: { L: 596.7, R: 758.3, T: 981, B: 1105.3, x0: 604, pxX: 0.364, y1: 996.7, y0: 1103.3, yTitleX: 567.5, xTitleY: 1142.3 },
    lab: [[527.3, 1025.7], [527.3, 1033.3], [527.3, 1068.3], [415, 1009], [403, 1025.7], [469.3, 977.7], [411, 985], [526.7, 986]],
  },
];

const COLS = [{ x: 0, w: 384 }, { x: 380, w: 381 }];
const PAD_TOP = 24;
const PAD_RIGHT = 7;
const TRACE_W = 185;

// ---------- helpers ----------
const pts = (arr: Pair[]) => arr.map(([x, y]) => ({ x, y }));

function lineDs(data: any[], axis: string, width: number, extra: any = {}) {
  return {
    data, yAxisID: axis, showLine: true, borderColor: "#000", borderWidth: width,
    pointRadius: 0, pointHoverRadius: 0, tension: 0, fill: false, ...extra,
  };
}

const barLabelPlugin = {
  id: "barLabels",
  afterDatasetsDraw(chart: any, _args: any, opts: any) {
    const bars: Bar[] = opts.bars || [];
    const { ctx } = chart;
    const xs = chart.scales.x;
    const ys = chart.scales.y;
    for (const b of bars) {
      if (!b[4]) continue;
      ctx.save();
      ctx.font = `bold 9px ${FONT}`;
      ctx.fillStyle = "#000";
      ctx.textAlign = "center";
      ctx.textBaseline = "alphabetic";
      ctx.translate(xs.getPixelForValue(b[3]), ys.getPixelForValue(b[2]) - 5);
      ctx.scale(NARROW_SCALE, 1);
      ctx.fillText(b[4], 0, 0);
      ctx.restore();
    }
  },
};

function ChartCanvas({ left, top, width, height, make }: any) {
  const ref = useRef<HTMLCanvasElement>(null);
  useEffect(() => {
    const chart = new Chart(ref.current as HTMLCanvasElement, make());
    return () => chart.destroy();
  }, []);
  return (
    <canvas ref={ref} width={width} height={height}
      style={{ position: "absolute", left, top, width, height, display: "block" }} />
  );
}

function Txt({ x, y, text, size, bold, align, baseline, narrow }: any) {
  const tx = align === "c" ? "-50%" : align === "r" ? "-100%" : "0";
  const origin = align === "c" ? "center center" : align === "r" ? "right center" : "left center";
  const top = baseline !== undefined ? baseline - 0.847 * size : y - size / 2;
  const sx = narrow ? NARROW_SCALE : 1;
  return (
    <div style={{
      position: "absolute", left: x, top, height: size, lineHeight: `${size}px`, fontSize: size,
      fontWeight: bold ? 700 : 400, fontFamily: FONT, whiteSpace: "nowrap",
      transform: `translateX(${tx}) scaleX(${sx})`, transformOrigin: origin, color: "#000",
    }}>{text}</div>
  );
}

function traceChart(p: any) {
  const t: TraceLayout = p.trace;
  const boxLeft = COLS[p.col].x;
  const pxMs = (t.tOff - t.tOn) / (PULSE_MS[1] - PULSE_MS[0]);
  const pxMV = (t.p180 - t.p100) / (PROTOCOL_MV[1] - PROTOCOL_MV[0]);
  const xMin = (boxLeft - t.tOn) / pxMs;
  const xMax = (boxLeft + TRACE_W - t.tOn) / pxMs;
  const yMax = (t.base - t.top) / t.pxNA;
  const yMin = (t.base - (t.top + t.h)) / t.pxNA;
  const vMax = PROTOCOL_MV[1] + (t.p100 - t.top) / pxMV;
  const vMin = PROTOCOL_MV[1] - (t.top + t.h - t.p100) / pxMV;
  const [s, e] = p.protoT;
  const protocol = [
    { x: s, y: PROTOCOL_MV[0] }, { x: PULSE_MS[0], y: PROTOCOL_MV[0] }, { x: PULSE_MS[0], y: PROTOCOL_MV[1] },
    { x: PULSE_MS[1], y: PROTOCOL_MV[1] }, { x: PULSE_MS[1], y: PROTOCOL_MV[2] }, { x: e, y: PROTOCOL_MV[2] },
  ];
  const [sb0, sbLen, sbTop, sbAmp] = p.scaleBar;
  const scale = [{ x: sb0 + sbLen, y: sbTop }, { x: sb0, y: sbTop }, { x: sb0, y: sbTop - sbAmp }];
  const baseline = [{ x: p.baseT[0], y: 0 }, { x: p.baseT[1], y: 0 }];
  return {
    type: "scatter",
    data: {
      datasets: [
        lineDs(pts(p.traces[0]), "y", 1.3),
        lineDs(pts(p.traces[1]), "y", 1.3),
        lineDs(pts(p.traces[2]), "y", 1.3),
        lineDs(protocol, "v", 1.2),
        lineDs(scale, "y", 1.2),
        lineDs(baseline, "y", 1.2, { borderDash: [4, 3] }),
      ],
    },
    options: {
      animation: false, responsive: false, events: [],
      layout: { padding: 0 },
      plugins: { legend: { display: false }, tooltip: { enabled: false } },
      scales: {
        x: { type: "linear", display: false, min: xMin, max: xMax },
        y: { type: "linear", display: false, min: yMin, max: yMax },
        v: { type: "linear", display: false, min: vMin, max: vMax, position: "left" },
      },
    },
  };
}

function scatterGeom(s: ScatterLayout) {
  const left = Math.round(s.yTitleX - 7.2);
  const top = Math.round(s.T - PAD_TOP);
  const right = Math.round(s.R + PAD_RIGHT);
  const bottom = Math.round(s.xTitleY + 6.6);
  return { left, top, width: right - left, height: bottom - top };
}

function scatterChart(p: any) {
  const s: ScatterLayout = p.scatter;
  const g = scatterGeom(s);
  const areaTop = g.top + PAD_TOP;
  const areaRight = g.left + g.width - PAD_RIGHT;
  const yAxisW = s.L - g.left;
  const xAxisH = g.top + g.height - s.B;
  const yMax = (s.y0 - areaTop) / (s.y0 - s.y1);
  const yMin = (s.y0 - s.B) / (s.y0 - s.y1);
  const xMin = (s.L - s.x0) / s.pxX;
  const xMax = (areaRight - s.x0) / s.pxX;
  const tickFont = { family: FONT, size: 11 };
  const grid = { drawOnChartArea: false, drawTicks: true, tickLength: 4, color: "#000", lineWidth: 1 };
  const border = { display: true, color: "#000", width: 2 };
  const datasets: any[] = [
    {
      data: pts(p.points), showLine: false, pointRadius: 5.3, pointHoverRadius: 5.3,
      pointBackgroundColor: "#fff", pointBorderColor: "#000", pointBorderWidth: 1.3,
    },
    ...p.bars.map((b: Bar) =>
      lineDs([{ x: b[0], y: b[2] }, { x: b[1], y: b[2] }], "y", 3.5, { clip: false, borderCapStyle: "butt" })),
  ];
  return {
    type: "scatter",
    data: { datasets },
    plugins: [barLabelPlugin],
    options: {
      animation: false, responsive: false, events: [],
      layout: { padding: { top: PAD_TOP, right: PAD_RIGHT, left: 0, bottom: 0 } },
      plugins: { legend: { display: false }, tooltip: { enabled: false }, barLabels: { bars: p.bars } },
      scales: {
        x: {
          type: "linear", min: xMin, max: xMax,
          afterBuildTicks: (ax: any) => { ax.ticks = p.xTicks.map((v: number) => ({ value: v })); },
          afterFit: (ax: any) => { ax.height = xAxisH; ax.paddingLeft = 0; ax.paddingRight = 0; },
          ticks: {
            callback: (v: any) => (p.xLabels.includes(v) ? String(v) : ""),
            font: tickFont, color: "#000", padding: 3, maxRotation: 0, minRotation: 0, autoSkip: false,
          },
          grid, border,
          title: { display: true, text: "Elapsed Time (s)", font: { family: FONT, size: 11 }, color: "#000", padding: 0 },
        },
        y: {
          type: "linear", min: yMin, max: yMax,
          afterBuildTicks: (ax: any) => { ax.ticks = Y_TICKS.map((v) => ({ value: v })); },
          afterFit: (ax: any) => { ax.width = yAxisW; ax.paddingTop = 0; ax.paddingBottom = 0; },
          ticks: {
            callback: (v: any) => (Y_LABELS.some((l) => Math.abs(l - v) < 1e-9) ? Number(v).toFixed(1) : ""),
            font: tickFont, color: "#000", padding: 2, autoSkip: false,
          },
          grid, border,
          title: { display: true, text: "Normalized current", font: { family: FONT, size: 12 }, color: "#000", padding: 0 },
        },
      },
    },
  };
}

function Panel({ p }: any) {
  const ox = COLS[p.col].x;
  const g = scatterGeom(p.scatter);
  const L = p.lab;
  const small = { size: 9, bold: true, narrow: true };
  return (
    <>
      <Txt x={p.letterPos[0] - ox} baseline={p.letterPos[1]} text={p.letter} size={31} bold />
      <Txt x={p.titlePos[0] - ox} baseline={p.titlePos[1]} text={p.title} size={20} />
      <ChartCanvas left={0} top={p.trace.top} width={TRACE_W} height={p.trace.h} make={() => traceChart(p)} />
      <ChartCanvas left={g.left - ox} top={g.top} width={g.width} height={g.height} make={() => scatterChart(p)} />
      {TRACE_NAMES.map((n, k) => (
        <Txt key={n} x={L[k][0] - ox} y={L[k][1]} text={n} align="l" {...small} />
      ))}
      <Txt x={L[3][0] - ox} y={L[3][1]} text="10 ms" align="c" {...small} />
      <Txt x={L[4][0] - ox} y={L[4][1]} text={p.nA} align="r" {...small} />
      <Txt x={L[5][0] - ox} y={L[5][1]} text={p.step} align="c" {...small} />
      <Txt x={L[6][0] - ox} y={L[6][1]} text="-180 mV" align="r" {...small} />
      <Txt x={L[7][0] - ox} y={L[7][1]} text="-120 mV" align="l" {...small} />
    </>
  );
}

export default function App() {
  return (
    <div style={{ position: "absolute", left: 0, top: 0, width: 761, height: 1150, background: "#fff", overflow: "hidden" }}>
      {COLS.map((c, ci) => (
        <div key={ci} style={{ position: "absolute", left: c.x, top: 0, width: c.w, height: 1150, overflow: "hidden" }}>
          {PANELS.filter((p) => p.col === ci).map((p) => <Panel key={p.letter} p={p} />)}
        </div>
      ))}
    </div>
  );
}
